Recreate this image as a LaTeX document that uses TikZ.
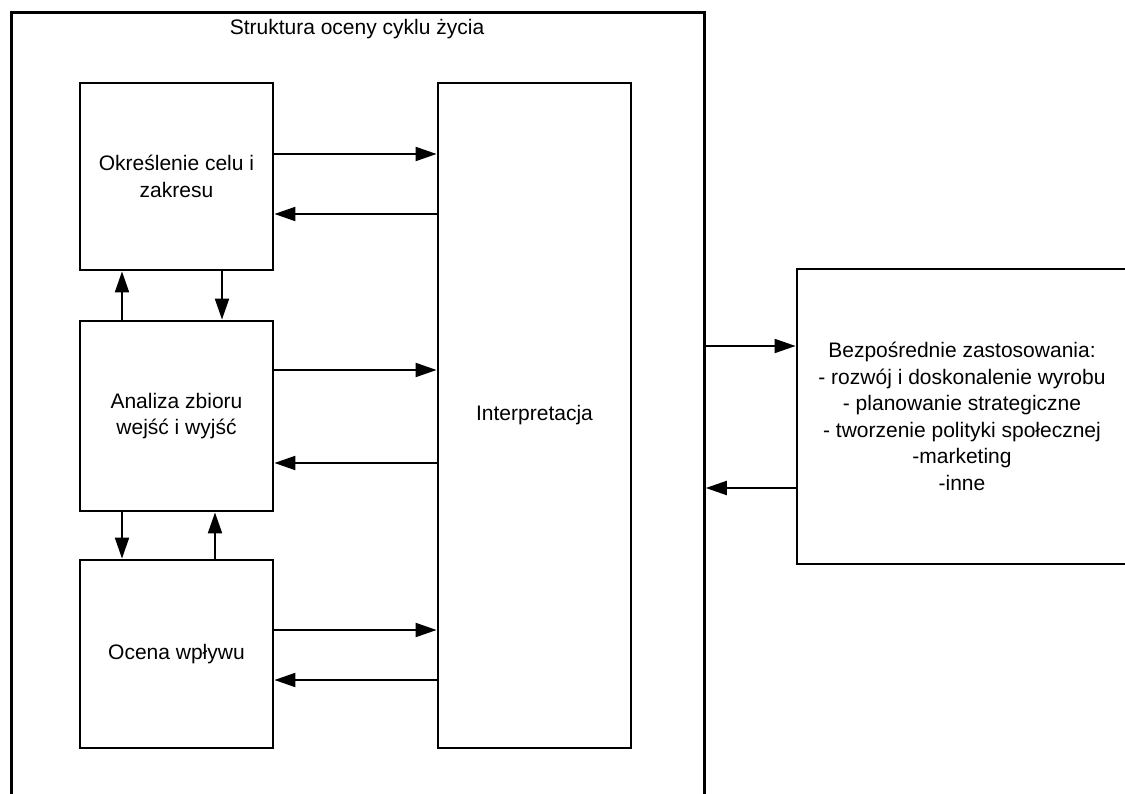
\documentclass[tikz,border=0pt]{standalone}
\usepackage{fontspec}
\setmainfont{Liberation Sans}
\usetikzlibrary{arrows.meta}
\begin{document}
\begin{tikzpicture}[x=1pt,y=-1pt,
  every node/.style={font=\fontsize{21}{26.5}\selectfont, align=center, inner sep=0pt},
  block/.style={draw, line width=2.8pt, minimum width=193pt},
  arr/.style={line width=2.1pt, -{Triangle[length=21pt,width=14pt]}}]
  \useasboundingbox (0,0) rectangle (1125,794);
  \clip (0,0) rectangle (1125,794);
  \fill[white] (0,0) rectangle (1125,794);

  % outer frame with its title
  \node[draw, line width=2.8pt, minimum width=693pt, minimum height=800pt, anchor=north west] (frame) at (10,11) {};
  \node (title) at (357,29) {Struktura oceny cyklu życia};

  % LCA phases
  \node[block, minimum height=187pt] (scope) at (176.5,176.5) {Określenie celu i\\zakresu};
  \node[block, minimum height=190pt] (lci) at (176.5,416) {Analiza zbioru\\wejść i wyjść};
  \node[block, minimum height=188pt] (lcia) at (176.5,654) {Ocena wpływu};
  \node[block, minimum height=665pt] (interp) at (534.5,415.5) {Interpretacja};

  % applications
  \node[block, minimum width=330pt, minimum height=295pt] (app) at (962,416.5)
    {Bezpośrednie zastosowania:\\- rozwój i doskonalenie wyrobu\\- planowanie strategiczne\\- tworzenie polityki społecznej\\-marketing\\-inne};

  % phases <-> interpretation
  \draw[arr] (scope.east |- 0,154) -- (interp.west |- 0,154);
  \draw[arr] (interp.west |- 0,214) -- (scope.east |- 0,214);
  \draw[arr] (lci.east |- 0,370) -- (interp.west |- 0,370);
  \draw[arr] (interp.west |- 0,463) -- (lci.east |- 0,463);
  \draw[arr] (lcia.east |- 0,630) -- (interp.west |- 0,630);
  \draw[arr] (interp.west |- 0,680) -- (lcia.east |- 0,680);

  % phases <-> phases
  \draw[arr] (lci.north -| 122,0) -- (scope.south -| 122,0);
  \draw[arr] (scope.south -| 222,0) -- (lci.north -| 222,0);
  \draw[arr] (lci.south -| 122,0) -- (lcia.north -| 122,0);
  \draw[arr] (lcia.north -| 215,0) -- (lci.south -| 215,0);

  % framework <-> applications
  \draw[arr] (frame.east |- 0,346) -- (app.west |- 0,346);
  \draw[arr] (app.west |- 0,488) -- (frame.east |- 0,488);
\end{tikzpicture}
\end{document}
